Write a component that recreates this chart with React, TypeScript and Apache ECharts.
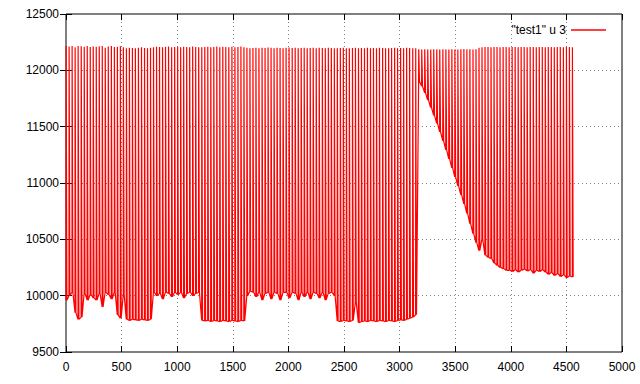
import { useEffect, useRef } from "react";
import * as echarts from "echarts";

const FONT = '"Liberation Sans", Arial, sans-serif';
const seriesName = '"test1" u 3';

const xMin = 0;
const xMax = 5000;
const xInterval = 500;
const yMin = 9500;
const yMax = 12500;
const yInterval = 500;

// samples between successive spikes (x is the sample index in the file)
const cycleLength = 27.1;

// low level around each spike
const lows = [
  9960, 10000, 10030, 9850, 9790, 9810, 10020, 9960, 10010, 9980,
  9960, 10020, 9900, 10030, 10010, 9970, 10030, 9830, 9800, 10010,
  9790, 9780, 9790, 9785, 9780, 9790, 9785, 9780, 9790,
  10030, 10000, 10020, 9970, 10030, 10020, 9990, 10030, 10010, 10030,
  9980, 10020, 10030, 10000, 10020, 10030,
  9780, 9775, 9780, 9770, 9780, 9775, 9770, 9780, 9775, 9770,
  9780, 9775, 9770, 9780, 9775,
  10000, 10040, 10030, 9990, 10030, 9960, 10020, 10030, 9970, 10030,
  10020, 9960, 10030, 10030, 9980, 10030, 10020, 9960, 10030, 9990,
  10030, 9970, 10030, 10020, 9980, 10030, 9960, 10020, 10030, 10000,
  9775, 9770, 9780, 9775, 9770, 9780,
  9940,
  9760, 9770, 9775, 9770, 9780, 9775, 9770, 9780, 9775, 9770,
  9780, 9775, 9770, 9780, 9785, 9780, 9790, 9800, 9810, 9830,
  11900, 11860, 11800, 11735, 11670, 11600, 11530, 11455, 11375, 11295,
  11215, 11135, 11055, 10975, 10895, 10815, 10730, 10640, 10550, 10470,
  10400, 10500, 10360, 10340, 10330, 10290, 10270, 10250, 10240, 10225,
  10225, 10215, 10230, 10210, 10225, 10235, 10220, 10230, 10200, 10225,
  10215, 10230, 10210, 10190, 10205, 10180, 10195, 10170, 10185, 10160,
  10175, 10165,
];

// top of each spike
const highs = [
  12215, 12212, 12215, 12205, 12215, 12214, 12210, 12215, 12208, 12212,
  12210, 12214, 12215, 12200, 12212, 12215, 12208, 12210, 12214, 12205,
  12195, 12200, 12198, 12195, 12200, 12205, 12198, 12195, 12200,
  12205, 12210, 12208, 12205, 12210, 12212, 12205, 12208, 12210, 12205,
  12210, 12208, 12205, 12212, 12208, 12205,
  12205, 12208, 12210, 12205, 12208, 12212, 12205, 12210, 12208, 12205,
  12210, 12205, 12208, 12212, 12205,
  12200, 12195, 12198, 12200, 12195, 12200, 12198, 12202, 12200, 12196,
  12200, 12198, 12195, 12200, 12202, 12198, 12200, 12195, 12198, 12200,
  12195, 12198, 12200, 12196, 12200, 12198, 12195, 12200, 12198, 12196,
  12195, 12198, 12200, 12196, 12195, 12198,
  12200,
  12196, 12198, 12195, 12200, 12196, 12198, 12195, 12200, 12198, 12196,
  12195, 12198, 12200, 12196, 12198, 12195, 12200, 12198, 12196, 12195,
  12188, 12185, 12188, 12186, 12185, 12188, 12186, 12185, 12188, 12186,
  12185, 12188, 12186, 12185, 12188, 12190, 12186, 12188, 12185, 12188,
  12200, 12205, 12208, 12206, 12205, 12208, 12206, 12205, 12208, 12206,
  12205, 12208, 12206, 12205, 12208, 12206, 12205, 12208, 12206, 12205,
  12208, 12206, 12205, 12208, 12206, 12205, 12208, 12206, 12205, 12208,
  12206, 12205,
];

function buildSeries(): [number, number][] {
  const pts: [number, number][] = [];
  lows.forEach((lo, i) => {
    const x0 = Math.round(i * cycleLength);
    pts.push([x0, lo], [x0 + 1, highs[i]], [x0 + 7, highs[i]], [x0 + 8, lo]);
  });
  return pts;
}

export default function App() {
  const ref = useRef<HTMLDivElement>(null);
  useEffect(() => {
    if (!ref.current) return;
    const chart = echarts.init(ref.current, undefined, { renderer: "svg" });
    const tick = { show: true, inside: true, length: 6, lineStyle: { color: "#000", width: 1 } };
    const grid = { show: true, lineStyle: { color: "#808080", width: 1, type: [1, 3] as any } };
    const label = {
      color: "#000",
      fontSize: 12,
      fontFamily: FONT,
      formatter: (v: number) => String(v),
    };
    chart.setOption({
      animation: false,
      backgroundColor: "#fff",
      grid: {
        left: 66,
        right: 18,
        top: 14,
        bottom: 32,
        show: true,
        borderColor: "#000",
        borderWidth: 1,
      },
      legend: {
        data: [seriesName],
        right: 29,
        top: 19,
        align: "right",
        icon: "rect",
        itemWidth: 35,
        itemHeight: 1.5,
        selectedMode: false,
        itemStyle: { color: "#ff0000" },
        textStyle: { color: "#000", fontSize: 12, fontFamily: FONT },
      },
      xAxis: [
        {
          type: "value",
          min: xMin,
          max: xMax,
          interval: xInterval,
          axisLine: { show: false },
          axisTick: tick,
          axisLabel: { ...label, margin: 9 },
          splitLine: grid,
        },
        {
          type: "value",
          position: "top",
          min: xMin,
          max: xMax,
          interval: xInterval,
          axisLine: { show: false },
          axisTick: tick,
          axisLabel: { show: false },
          splitLine: { show: false },
        },
      ],
      yAxis: [
        {
          type: "value",
          min: yMin,
          max: yMax,
          interval: yInterval,
          axisLine: { show: false },
          axisTick: tick,
          axisLabel: { ...label, margin: 7 },
          splitLine: grid,
        },
        {
          type: "value",
          position: "right",
          min: yMin,
          max: yMax,
          interval: yInterval,
          axisLine: { show: false },
          axisTick: tick,
          axisLabel: { show: false },
          splitLine: { show: false },
        },
      ],
      series: [
        {
          type: "line",
          name: seriesName,
          xAxisIndex: 0,
          yAxisIndex: 0,
          data: buildSeries(),
          showSymbol: false,
          symbol: "none",
          lineStyle: { color: "#ff0000", width: 1.2 },
          itemStyle: { color: "#ff0000" },
        },
      ],
    });
    return () => chart.dispose();
  }, []);
  return <div ref={ref} style={{ width: 640, height: 384, position: "fixed", left: 0, top: 0 }} />;
}
